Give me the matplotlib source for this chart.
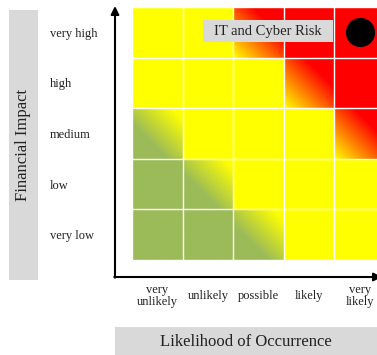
import numpy as np
import matplotlib.pyplot as plt
from matplotlib.patches import Rectangle

plt.rcParams['font.family'] = ['Liberation Serif', 'DejaVu Serif']

likelihood = ['very\nunlikely', 'unlikely', 'possible', 'likely', 'very\nlikely']
impact = ['very low', 'low', 'medium', 'high', 'very high']

# risk band for each cell, rows = impact (very low -> very high), cols = likelihood
# 0 green, 1 green/yellow blend, 2 yellow, 3 yellow/red blend, 4 red
risk_band = [
    [0, 0, 1, 2, 2],
    [0, 1, 2, 2, 2],
    [1, 2, 2, 2, 3],
    [2, 2, 2, 3, 4],
    [2, 2, 3, 4, 4],
]

risk_names = ['IT and Cyber Risk']
risk_likelihood = [4]
risk_impact = [4]

GREEN = np.array([155, 187, 89]) / 255
YELLOW = np.array([1.0, 1.0, 0.0])
RED = np.array([1.0, 0.0, 0.0])
GREY = '#d9d9d9'
TXT = '#222222'


def cell_rgb(band, n=64):
    xs = np.linspace(0, 1, n)
    X, Y = np.meshgrid(xs, xs)
    u = (X + Y) / 2  # diagonal position, bottom-left -> top-right
    if band == 0:
        t, c0, c1 = np.zeros_like(u), GREEN, GREEN
    elif band == 1:
        t, c0, c1 = np.clip((u - 0.35) / 0.55, 0, 1), GREEN, YELLOW
    elif band == 2:
        t, c0, c1 = np.zeros_like(u), YELLOW, YELLOW
    elif band == 3:
        t, c0, c1 = np.clip(u / 0.7, 0, 1), YELLOW, RED
    else:
        t, c0, c1 = np.zeros_like(u), RED, RED
    return c0 + (c1 - c0) * t[..., None]


W, H = 377, 355
fig = plt.figure(figsize=(W / 100, H / 100), dpi=100)

# decoration layer in pixel coordinates
bg = fig.add_axes([0, 0, 1, 1], zorder=0)
bg.set_xlim(0, W)
bg.set_ylim(H, 0)
bg.axis('off')

bg.add_patch(Rectangle((9, 10), 29, 270, facecolor=GREY, edgecolor='none'))
bg.text(23.5, 145, 'Financial Impact', rotation=90, ha='center', va='center',
        fontsize=12, color=TXT)
bg.add_patch(Rectangle((115, 327), 270, 30, facecolor=GREY, edgecolor='none'))
bg.text(246, 342, 'Likelihood of Occurrence', ha='center', va='center',
        fontsize=12, color=TXT)

arrow = dict(arrowstyle='-|>', color='black', lw=1.5, mutation_scale=12,
             shrinkA=0, shrinkB=0)
bg.annotate('', xy=(115, 6), xytext=(115, 277.7), arrowprops=arrow,
            annotation_clip=False)
bg.annotate('', xy=(382, 277), xytext=(114.3, 277), arrowprops=arrow,
            annotation_clip=False)

# heat map grid
ax = fig.add_axes([132 / W, (H - 260) / H, 253 / W, 253 / H], zorder=1)
for r, row in enumerate(risk_band):
    for c, band in enumerate(row):
        ax.imshow(cell_rgb(band), extent=(c, c + 1, r, r + 1), origin='lower',
                  interpolation='bilinear', aspect='auto')
for k in range(6):
    ax.axvline(k, color='white', lw=1.0)
    ax.axhline(k, color='white', lw=1.0)
ax.set_xlim(0, 5)
ax.set_ylim(0, 5)
for s in ax.spines.values():
    s.set_visible(False)

ax.set_xticks(np.arange(len(likelihood)) + 0.5, likelihood)
ax.set_yticks(np.arange(len(impact)) + 0.5, impact)
ax.tick_params(axis='both', length=0, labelsize=9, labelcolor=TXT)
ax.tick_params(axis='x', pad=26)
ax.tick_params(axis='y', pad=59)
for lbl in ax.get_xticklabels():
    lbl.set_va('center')
    lbl.set_linespacing(1.05)
for lbl in ax.get_yticklabels():
    lbl.set_ha('left')

# plotted risks
for name, lx, iy in zip(risk_names, risk_likelihood, risk_impact):
    cx, cy = lx + 0.5, iy + 0.5
    ax.scatter([cx], [cy], s=400, color='black', zorder=5)
    ax.add_patch(Rectangle((cx - 3.1, cy - 0.2), 2.57, 0.45, facecolor=GREY,
                           edgecolor='none', zorder=4))
    ax.text(cx - 1.82, cy + 0.02, name, ha='center', va='center',
            fontsize=10.5, color=TXT, zorder=6)

fig.savefig('out.png', dpi=100)
